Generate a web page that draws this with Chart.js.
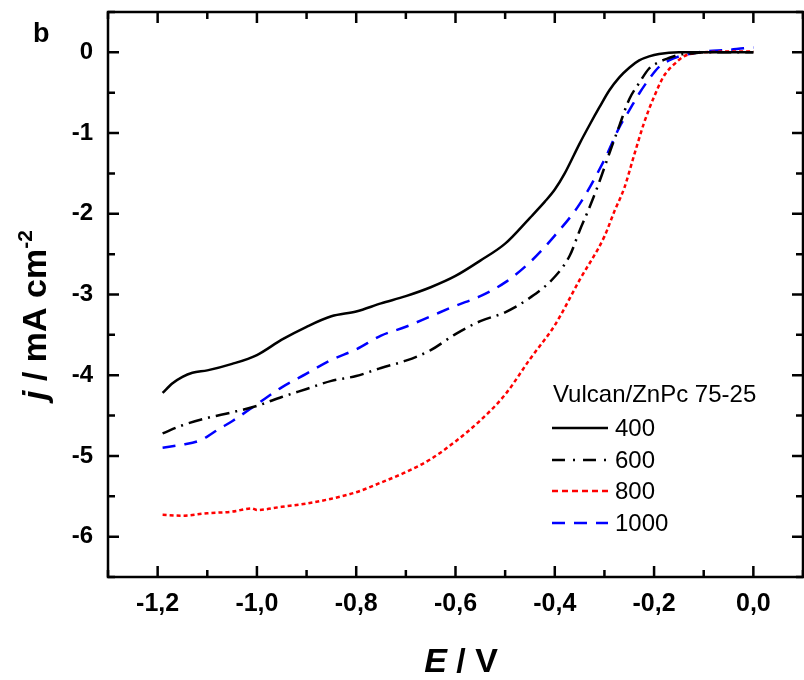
<!DOCTYPE html>
<html>
<head>
<meta charset="utf-8">
<script src="https://cdn.jsdelivr.net/npm/chart.js@4.4.0/dist/chart.umd.min.js"></script>
<style>
  html, body { margin: 0; padding: 0; background: #fff; }
  #wrap { width: 804px; height: 680px; position: relative; }
</style>
</head>
<body>
<div id="wrap"><canvas id="rde"></canvas></div>
<script>
// Vulcan/ZnPc 75-25, current density vs potential at four speeds
const e400  = [-1.19,-1.17,-1.15,-1.13,-1.10,-1.05,-1.00,-0.95,-0.90,-0.85,-0.80,-0.75,-0.70,-0.65,-0.60,-0.55,-0.50,-0.45,-0.42,-0.40,-0.38,-0.35,-0.33,-0.31,-0.29,-0.27,-0.25,-0.23,-0.21,-0.19,-0.15,-0.10,-0.05,0.00];
const j400  = [-4.22,-4.10,-4.02,-3.97,-3.94,-3.86,-3.75,-3.56,-3.40,-3.27,-3.21,-3.11,-3.02,-2.91,-2.77,-2.58,-2.37,-2.05,-1.85,-1.70,-1.50,-1.13,-0.90,-0.68,-0.47,-0.31,-0.19,-0.10,-0.05,-0.02,0.00,0.00,0.00,0.00];

const e600  = [-1.19,-1.15,-1.10,-1.05,-1.00,-0.95,-0.90,-0.85,-0.80,-0.75,-0.70,-0.65,-0.60,-0.55,-0.50,-0.45,-0.40,-0.37,-0.35,-0.33,-0.31,-0.29,-0.27,-0.25,-0.23,-0.21,-0.19,-0.17,-0.15,-0.12,-0.10,0.00];
const j600  = [-4.72,-4.62,-4.53,-4.46,-4.38,-4.27,-4.17,-4.07,-4.01,-3.91,-3.82,-3.69,-3.49,-3.33,-3.22,-3.04,-2.78,-2.52,-2.21,-1.92,-1.60,-1.25,-0.91,-0.58,-0.38,-0.20,-0.12,-0.07,-0.03,-0.01,0.00,0.00];

const e800  = [-1.19,-1.15,-1.10,-1.05,-1.01,-1.00,-0.95,-0.90,-0.85,-0.80,-0.75,-0.70,-0.65,-0.60,-0.55,-0.50,-0.45,-0.40,-0.35,-0.30,-0.28,-0.26,-0.24,-0.22,-0.20,-0.18,-0.16,-0.14,-0.12,-0.10,-0.05,0.00];
const j800  = [-5.73,-5.74,-5.71,-5.69,-5.65,-5.67,-5.63,-5.59,-5.53,-5.45,-5.33,-5.20,-5.04,-4.82,-4.56,-4.24,-3.80,-3.38,-2.82,-2.28,-1.97,-1.68,-1.27,-0.87,-0.55,-0.29,-0.15,-0.05,-0.01,0.00,0.01,0.01];

const e1000 = [-1.19,-1.15,-1.12,-1.10,-1.08,-1.05,-1.00,-0.95,-0.90,-0.85,-0.80,-0.75,-0.70,-0.65,-0.60,-0.55,-0.50,-0.45,-0.40,-0.35,-0.30,-0.27,-0.25,-0.23,-0.21,-0.19,-0.17,-0.15,-0.12,-0.10,-0.05,-0.02,0.00];
const j1000 = [-4.90,-4.86,-4.82,-4.76,-4.68,-4.57,-4.36,-4.15,-3.98,-3.81,-3.68,-3.51,-3.40,-3.27,-3.14,-3.02,-2.85,-2.60,-2.27,-1.88,-1.33,-0.93,-0.72,-0.51,-0.33,-0.18,-0.10,-0.05,-0.01,0.01,0.03,0.05,0.06];

const seriesNames = ['400', '600', '800', '1000'];
const xTicks = [-1.2, -1.0, -0.8, -0.6, -0.4, -0.2, 0.0];
const yTicks = [-6, -5, -4, -3, -2, -1, 0];

const FONT = "'Liberation Sans', Arial, sans-serif";

function pts(xs, ys) {
  return xs.map((x, i) => ({ x, y: ys[i] }));
}

// line styles: colour, plot dash, legend dash
const styles = [
  { color: '#000000', dash: [],            legendDash: [] },
  { color: '#000000', dash: [14, 6, 2, 6], legendDash: [13, 8, 2, 8] },
  { color: '#ff0000', dash: [4, 3],        legendDash: [6, 4] },
  { color: '#0000ff', dash: [13, 9],       legendDash: [13, 9] }
];
const values = [[e400, j400], [e600, j600], [e800, j800], [e1000, j1000]];

const datasets = values.map(([xs, ys], i) => ({
  label: seriesNames[i],
  data: pts(xs, ys),
  showLine: true,
  borderColor: styles[i].color,
  borderDash: styles[i].dash,
  borderWidth: 2.5,
  pointRadius: 0,
  cubicInterpolationMode: 'monotone',
  fill: false
}));

// draws text made of runs with their own font and vertical shift
function richText(ctx, parts, x, y, align) {
  const widths = parts.map(p => { ctx.font = p.font; return ctx.measureText(p.text).width; });
  const total = widths.reduce((a, b) => a + b, 0);
  let cx = align === 'center' ? x - total / 2 : x;
  parts.forEach((p, i) => {
    ctx.font = p.font;
    ctx.fillText(p.text, cx, y - (p.rise || 0));
    cx += widths[i];
  });
}

const decor = {
  id: 'decor',
  afterDraw(chart) {
    const { ctx, chartArea: a, scales: { x, y } } = chart;
    ctx.save();
    ctx.strokeStyle = '#000';
    ctx.fillStyle = '#000';
    ctx.lineWidth = 2.5;
    ctx.setLineDash([]);
    ctx.strokeRect(a.left, a.top, a.right - a.left, a.bottom - a.top);

    // inward ticks on all four sides, minor ones shorter
    ctx.beginPath();
    for (let i = -13; i <= 1; i++) {
      const px = x.getPixelForValue(i / 10);
      const len = i % 2 === 0 ? 11 : 7;
      ctx.moveTo(px, a.bottom); ctx.lineTo(px, a.bottom - len);
      ctx.moveTo(px, a.top);    ctx.lineTo(px, a.top + len);
    }
    for (let i = -13; i <= 1; i++) {
      const py = y.getPixelForValue(i / 2);
      const len = i % 2 === 0 ? 11 : 7;
      ctx.moveTo(a.left, py);  ctx.lineTo(a.left + len, py);
      ctx.moveTo(a.right, py); ctx.lineTo(a.right - len, py);
    }
    ctx.stroke();

    // panel letter
    ctx.textAlign = 'left';
    ctx.textBaseline = 'alphabetic';
    ctx.font = 'bold 27px ' + FONT;
    ctx.fillText('b', 33, 42);

    // x title
    richText(ctx, [
      { text: 'E', font: 'italic bold 34px ' + FONT },
      { text: ' / V', font: 'bold 34px ' + FONT }
    ], 461, 672, 'center');

    // y title, rotated
    ctx.save();
    ctx.translate(46, 315);
    ctx.rotate(-Math.PI / 2);
    richText(ctx, [
      { text: 'j', font: 'italic bold 34px ' + FONT },
      { text: ' / mA cm', font: 'bold 34px ' + FONT },
      { text: '-2', font: 'bold 21px ' + FONT, rise: 14 }
    ], 0, 0, 'center');
    ctx.restore();

    // legend
    ctx.font = '24px ' + FONT;
    ctx.textBaseline = 'middle';
    ctx.fillText('Vulcan/ZnPc 75-25', 553, 395);
    const rows = [428, 460, 491, 523];
    chart.data.datasets.forEach((ds, i) => {
      const ly = rows[i];
      ctx.beginPath();
      ctx.strokeStyle = ds.borderColor;
      ctx.lineWidth = 2.5;
      ctx.setLineDash(styles[i].legendDash);
      ctx.moveTo(552, ly);
      ctx.lineTo(608, ly);
      ctx.stroke();
      ctx.fillStyle = '#000';
      ctx.fillText(ds.label, 615, ly + 1);
    });
    ctx.restore();
  }
};

new Chart(document.getElementById('rde'), {
  type: 'scatter',
  data: { datasets },
  options: {
    responsive: true,
    maintainAspectRatio: false,
    animation: false,
    layout: { padding: { left: 0, top: 12, right: 1, bottom: 0 } },
    plugins: { legend: { display: false }, tooltip: { enabled: false } },
    scales: {
      x: {
        type: 'linear',
        min: -1.3, max: 0.1,
        grid: { display: false },
        border: { display: false },
        afterBuildTicks: s => { s.ticks = xTicks.map(v => ({ value: v })); },
        afterFit: s => { s.height = 103; s.paddingLeft = 0; s.paddingRight = 0; },
        ticks: {
          color: '#000',
          padding: 4,
          maxRotation: 0,
          font: { family: FONT, size: 25, weight: 'bold' },
          callback: v => v.toFixed(1).replace('.', ',')
        }
      },
      y: {
        type: 'linear',
        min: -6.5, max: 0.5,
        grid: { display: false },
        border: { display: false },
        afterBuildTicks: s => { s.ticks = yTicks.map(v => ({ value: v })); },
        afterFit: s => { s.width = 108; s.paddingTop = 0; s.paddingBottom = 0; },
        ticks: {
          color: '#000',
          padding: 7,
          font: { family: FONT, size: 24, weight: 'bold' },
          callback: v => String(v)
        }
      }
    }
  },
  plugins: [decor]
});
</script>
</body>
</html>
